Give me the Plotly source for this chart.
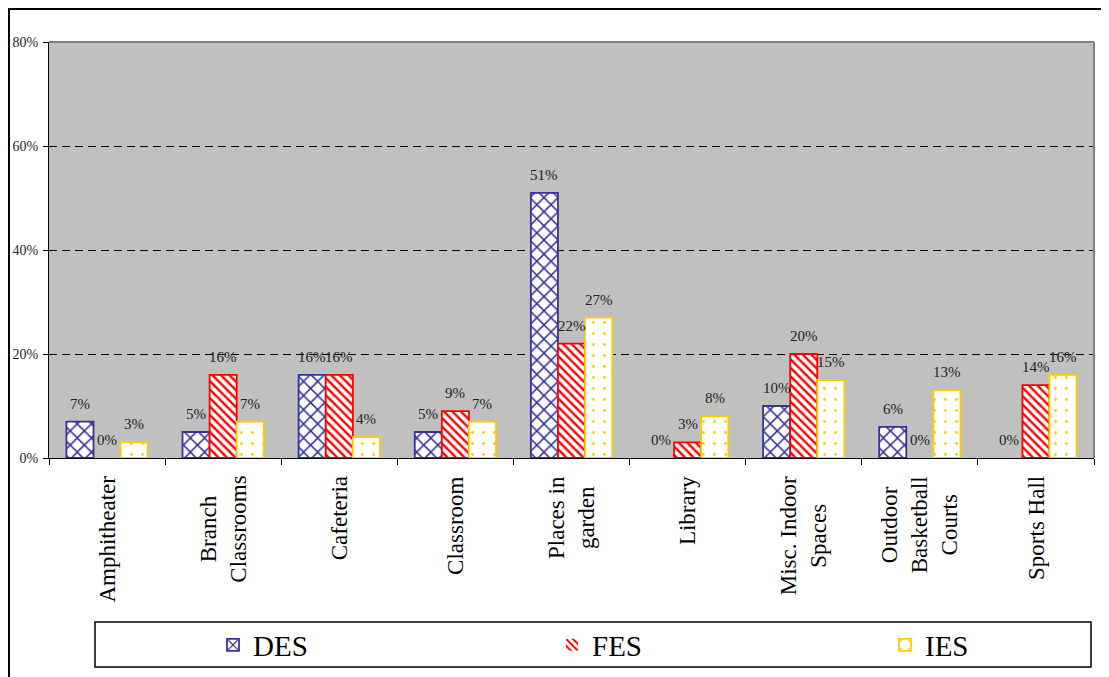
import plotly.graph_objects as go

categories = ["Amphitheater", "Branch<br>Classrooms", "Cafeteria", "Classroom",
              "Places in<br>garden", "Library", "Misc. Indoor<br>Spaces",
              "Outdoor<br>Basketball<br>Courts", "Sports Hall"]
des = [0.07, 0.05, 0.16, 0.05, 0.51, 0.00, 0.10, 0.06, 0.00]
fes = [0.00, 0.16, 0.16, 0.09, 0.22, 0.03, 0.20, 0.00, 0.14]
ies = [0.03, 0.07, 0.04, 0.07, 0.27, 0.08, 0.15, 0.13, 0.16]
series_names = ["DES", "FES", "IES"]
y_ticks = [0, 0.2, 0.4, 0.6, 0.8]

# the page places the figure 8px from the window's top-left corner
OFF = 8
W, H = 1109, 677
ML, MT = 49 - OFF, 42 - OFF
PW, PH = 1045, 416
MR = W - ML - PW
MB = H - MT - PH
SERIF = "Liberation Serif, Times New Roman, serif"
BARGAP = 0.30


def px_x(p):
    """window pixel -> paper x"""
    return (p - OFF - ML) / PW


def px_y(p):
    """window pixel -> paper y"""
    return (MT + PH - (p - OFF)) / PH


styles = [
    dict(line="#33339F", shape="x", size=10, solidity=0.28),
    dict(line="#FF0000", shape="\\", size=6, solidity=0.4),
    dict(line="#FFCC00", shape=".", size=11, solidity=0.05),
]

fig = go.Figure()
legends = ["legend", "legend2", "legend3"]
for name, vals, st, lg in zip(series_names, [des, fes, ies], styles, legends):
    fig.add_trace(go.Bar(
        x=categories, y=vals, name=name, legend=lg,
        marker=dict(color="white",
                    line=dict(color=st["line"],
                              width=[0 if v == 0 else 1.8 for v in vals]),
                    pattern=dict(shape=st["shape"], fgcolor=st["line"],
                                 bgcolor="white", size=st["size"],
                                 solidity=st["solidity"], fillmode="replace")),
    ))

cat_w = PW / len(categories)
bar_w = cat_w * (1 - BARGAP) / 3
annotations = []
for k, vals in enumerate([des, fes, ies]):
    for c, v in zip(categories, vals):
        annotations.append(dict(
            x=c, y=v, xref="x", yref="y", text=f"{round(v * 100)}%",
            showarrow=False, yanchor="bottom", yshift=8,
            xshift=(k - 1) * bar_w,
            font=dict(family=SERIF, size=15, color="#222222")))
for c in categories:
    annotations.append(dict(
        x=c, y=0, xref="x", yref="paper", text=c, showarrow=False,
        textangle=-90, yanchor="top", xanchor="center", align="center",
        yshift=-16, font=dict(family=SERIF, size=23, color="black")))

shapes = [
    # outer frame
    dict(type="rect", xref="paper", yref="paper",
         x0=px_x(9), x1=px_x(1140), y0=px_y(720), y1=px_y(9),
         line=dict(color="black", width=2), fillcolor="rgba(0,0,0,0)"),
    # legend box
    dict(type="rect", xref="paper", yref="paper",
         x0=px_x(95), x1=px_x(1091), y0=px_y(667), y1=px_y(622),
         line=dict(color="black", width=1.5), fillcolor="rgba(0,0,0,0)"),
    # plot top / right border
    dict(type="line", xref="paper", yref="paper", x0=0, x1=1, y0=1, y1=1,
         line=dict(color="#808080", width=2), layer="above"),
    dict(type="line", xref="paper", yref="paper", x0=1, x1=1, y0=0, y1=1,
         line=dict(color="#808080", width=2), layer="above"),
]

legend_common = dict(font=dict(family=SERIF, size=29, color="black"),
                     bgcolor="rgba(0,0,0,0)", borderwidth=0,
                     yanchor="middle", xanchor="left", y=px_y(645))

fig.update_layout(
    width=W, height=H,
    margin=dict(l=ML, r=MR, t=MT, b=MB, autoexpand=False),
    paper_bgcolor="white", plot_bgcolor="#C0C0C0",
    barmode="group", bargap=BARGAP, bargroupgap=0,
    showlegend=True,
    legend=dict(x=px_x(213), **legend_common),
    legend2=dict(x=px_x(552), **legend_common),
    legend3=dict(x=px_x(885), **legend_common),
    xaxis=dict(showticklabels=False, ticks="outside", ticklen=6,
               tickcolor="black", tickson="boundaries", showline=True,
               linecolor="black", linewidth=1, showgrid=False,
               fixedrange=True),
    yaxis=dict(range=[0, 0.8], tickvals=y_ticks, tickformat=".0%",
               ticks="outside", ticklen=5, tickcolor="black",
               showline=True, linecolor="black", linewidth=1,
               showgrid=True, gridcolor="black", gridwidth=1,
               griddash="8px,5px", zeroline=False, ticklabelstandoff=2,
               tickfont=dict(family=SERIF, size=14, color="#222222")),
    annotations=annotations, shapes=shapes,
)

fig.write_html("out.html")
